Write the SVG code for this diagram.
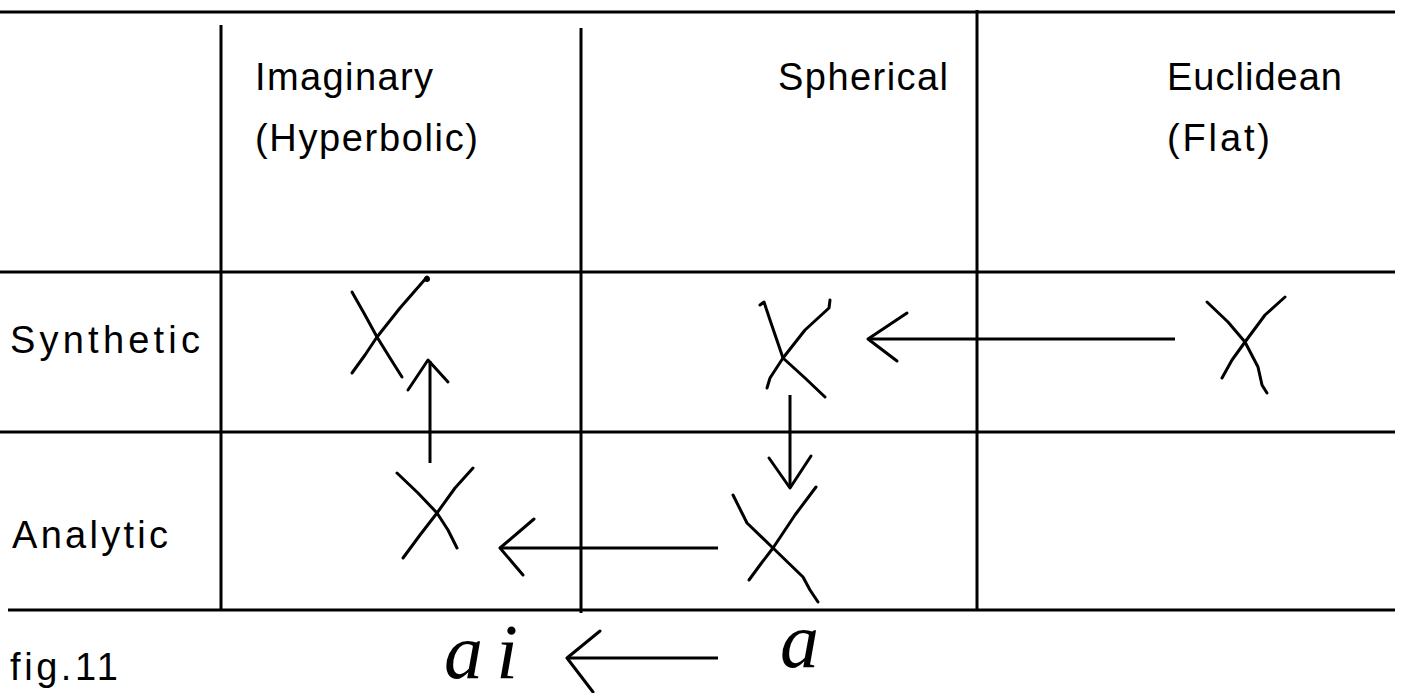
<svg xmlns="http://www.w3.org/2000/svg" width="1401" height="693" viewBox="0 0 1401 693">
<style>
.g{stroke:#000;stroke-width:3;fill:none}
.s{stroke:#000;stroke-width:3;fill:none;stroke-linecap:round;stroke-linejoin:round}
.t{font-family:"Liberation Sans",Arial,sans-serif;font-size:38px;fill:#000}
.h{font-family:"Liberation Serif","Times New Roman",serif;font-style:italic;font-size:78px;fill:#000}
</style>
<rect width="1401" height="693" fill="#fff"/>
<g id="grid">
<line class="g" x1="0" y1="12" x2="1395" y2="12"/>
<line class="g" x1="0" y1="272" x2="1395" y2="272"/>
<line class="g" x1="0" y1="432" x2="1395" y2="432"/>
<line class="g" x1="8" y1="610" x2="1395" y2="610"/>
<line class="g" x1="221" y1="25" x2="221" y2="610"/>
<line class="g" x1="581" y1="28" x2="581" y2="613"/>
<line class="g" x1="977" y1="10" x2="977" y2="610"/>
</g>
<g id="headers">
<text class="t" x="255" y="90" textLength="178" lengthAdjust="spacing">Imaginary</text>
<text class="t" x="255" y="151" textLength="223" lengthAdjust="spacing">(Hyperbolic)</text>
<text class="t" x="778" y="90" textLength="170" lengthAdjust="spacing">Spherical</text>
<text class="t" x="1167" y="90" textLength="175" lengthAdjust="spacing">Euclidean</text>
<text class="t" x="1167" y="151" textLength="103" lengthAdjust="spacing">(Flat)</text>
<text class="t" x="10" y="353" textLength="190" lengthAdjust="spacing">Synthetic</text>
<text class="t" x="12" y="548" textLength="156" lengthAdjust="spacing">Analytic</text>
<text class="t" x="10" y="680" textLength="108" lengthAdjust="spacing">fig.11</text>
</g>
<g id="x-syn-hyp">
<polyline class="s" points="352,292 365,315 377,337 390,358 402,377"/>
<polyline class="s" points="427,277 400,308 377,337 365,355 352,373"/>
<circle cx="427" cy="279" r="3" fill="#000"/>
</g>
<g id="x-syn-sph">
<polyline class="s" points="760,305 764,302 770,320 783,358 805,378 825,397"/>
<polyline class="s" points="830,300 829,308 805,330 783,358 770,378 767,388"/>
</g>
<g id="x-syn-euc">
<polyline class="s" points="1207,302 1228,322 1245,342 1258,367 1262,385 1267,393"/>
<polyline class="s" points="1285,297 1265,315 1245,342 1232,360 1222,378"/>
</g>
<g id="x-ana-hyp">
<polyline class="s" points="397,473 418,493 437,513 448,530 457,548"/>
<polyline class="s" points="473,468 455,488 437,513 420,535 403,558"/>
</g>
<g id="x-ana-sph">
<polyline class="s" points="733,495 747,523 773,548 803,577 810,590 818,602"/>
<polyline class="s" points="816,487 795,515 773,548 760,565 749,580"/>
</g>
<g id="labels">
<text class="h" x="444" y="678" textLength="74" lengthAdjust="spacing">ai</text>
<text class="h" x="780" y="667">a</text>
</g>
<g id="connectors">
<line class="g" x1="1175" y1="339" x2="868" y2="339"/>
<polyline class="s" points="907,313 868,339 897,361"/>
<line class="g" x1="790" y1="395" x2="790" y2="488"/>
<polyline class="s" points="769,458 790,488 811,456"/>
<line class="g" x1="718" y1="548" x2="500" y2="548"/>
<polyline class="s" points="534,519 500,548 523,575"/>
<line class="g" x1="430" y1="463" x2="430" y2="361"/>
<polyline class="s" points="408,390 428,360 448,382"/>
<line class="g" x1="718" y1="658" x2="567" y2="658"/>
<polyline class="s" points="600,631 567,658 593,692"/>
</g>
</svg>
